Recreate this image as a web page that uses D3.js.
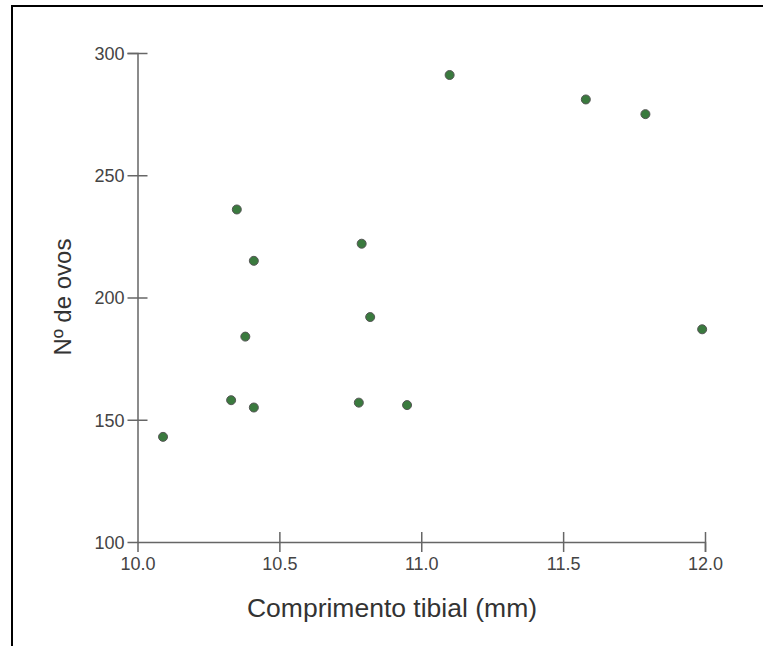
<!DOCTYPE html>
<html>
<head>
<meta charset="utf-8">
<script src="https://cdn.jsdelivr.net/npm/d3@7"></script>
<style>
  body{margin:0;background:#fff;}
  svg{display:block;font-family:"Liberation Sans",Arial,sans-serif;}
</style>
</head>
<body>
<svg width="763" height="646"></svg>
<script>
// comprimento tibial (mm) e numero de ovos
var tibia=[10.09,10.33,10.35,10.38,10.41,10.41,10.79,10.78,10.82,10.95,11.10,11.58,11.79,11.99];
var ovos=[143,158,236,184,215,155,222,157,192,156,291,281,275,187];
var xTicks=[10.0,10.5,11.0,11.5,12.0];
var yTicks=[100,150,200,250,300];

var svg=d3.select('svg');
var margin={top:53,left:137.5,right:58,bottom:104};
var width=763,height=646;
var plotWidth=width-margin.left-margin.right;
var plotHeight=height-margin.top-margin.bottom;

// frame lines top and left
svg.append('line').attr('x1',11).attr('x2',763).attr('y1',6).attr('y2',6)
  .attr('stroke','#000').attr('stroke-width',2);
svg.append('line').attr('x1',12).attr('x2',12).attr('y1',5).attr('y2',646)
  .attr('stroke','#000').attr('stroke-width',2);

var xScale=d3.scaleLinear().domain([10,12]).range([0,plotWidth]);
var yScale=d3.scaleLinear().domain([100,300]).range([plotHeight,0]);

var plot=svg.append('g').attr('transform','translate('+margin.left+','+margin.top+')');

var xAxis=d3.axisBottom(xScale).tickValues(xTicks).tickFormat(d3.format('.1f')).tickSizeOuter(0).tickSize(10);
var xGroup=plot.append('g').attr('transform','translate(0,'+plotHeight+')').call(xAxis);
xGroup.select('.domain').attr('stroke','#666').attr('stroke-width',1.5);
xGroup.selectAll('.tick line').attr('y1',-10).attr('y2',10).attr('stroke','#666').attr('stroke-width',1.5);
xGroup.selectAll('.tick text').attr('y',28).attr('dy',0).attr('fill','#444').style('font-size','18px');
xGroup.selectAll('.tick').filter(function(d){return d===10;}).select('line').remove();

var yAxis=d3.axisLeft(yScale).tickValues(yTicks).tickSizeOuter(0).tickSize(10);
var yGroup=plot.append('g').call(yAxis);
yGroup.select('.domain').attr('stroke','#666').attr('stroke-width',1.5);
yGroup.selectAll('.tick line').attr('x1',-10).attr('x2',10).attr('stroke','#666').attr('stroke-width',1.5);
yGroup.selectAll('.tick text').attr('x',-13).attr('dy','0.35em').attr('fill','#444').style('font-size','18px');
yGroup.selectAll('.tick').filter(function(d){return d===100;}).select('line').remove();
xGroup.attr('font-family',null).attr('font-size',null);
yGroup.attr('font-family',null).attr('font-size',null);

plot.selectAll('circle.pt')
  .data(tibia)
  .enter()
  .append('circle')
  .attr('class','pt')
  .attr('cx',function(d){return xScale(d);})
  .attr('cy',function(d,i){return yScale(ovos[i]);})
  .attr('r',4.5)
  .attr('fill','#3a7a3e')
  .attr('stroke','#555')
  .attr('stroke-width',1);

svg.append('text')
  .text('Comprimento tibial (mm)')
  .attr('x',392).attr('y',617)
  .attr('text-anchor','middle')
  .attr('fill','#333')
  .style('font-size','26.5px');

svg.append('text')
  .text('Nº de ovos')
  .attr('text-anchor','middle')
  .attr('transform','translate(71,297)rotate(-90)')
  .attr('fill','#333')
  .style('font-size','24px');
</script>
</body>
</html>
